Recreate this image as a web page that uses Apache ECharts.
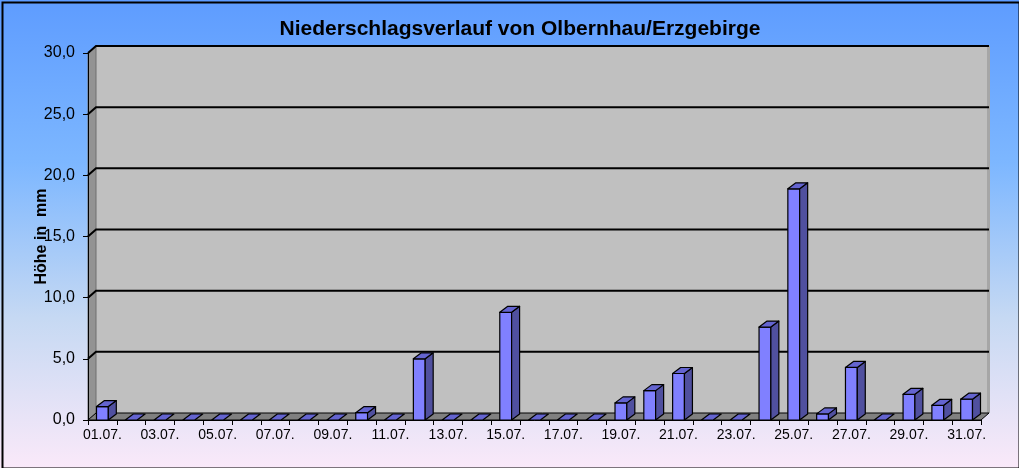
<!DOCTYPE html>
<html>
<head>
<meta charset="utf-8">
<script src="https://cdn.jsdelivr.net/npm/echarts@6/dist/echarts.min.js"></script>
<style>html,body{margin:0;padding:0;}#c{width:1019px;height:468px;}</style>
</head>
<body>
<div id="c"></div>
<script>
var titleText = 'Niederschlagsverlauf von Olbernhau/Erzgebirge';
var yAxisName = 'Höhe in  mm';
var categories = ['01.07.','02.07.','03.07.','04.07.','05.07.','06.07.','07.07.','08.07.','09.07.','10.07.',
  '11.07.','12.07.','13.07.','14.07.','15.07.','16.07.','17.07.','18.07.','19.07.','20.07.',
  '21.07.','22.07.','23.07.','24.07.','25.07.','26.07.','27.07.','28.07.','29.07.','30.07.','31.07.'];
var precipitation = [1.1,0,0,0,0,0,0,0,0,0.6,
  0,5.0,0,0,8.8,0,0,0,1.4,2.4,
  3.8,0,0,7.6,18.9,0.5,4.3,0,2.1,1.2,1.7];
var yTicks = [0,5,10,15,20,25,30];

var WALL_DX = 8, WALL_DY = 7;
var BAR_DX = 8, BAR_DY = 6;

var chart = echarts.init(document.getElementById('c'), null, {renderer:'canvas'});

function wallsRender(params, api) {
  var cs = params.coordSys;
  var x0 = cs.x, x1 = cs.x + cs.width;
  var yTop = cs.y, yBot = cs.y + cs.height;
  var children = [];
  children.push({type:'rect', shape:{x:x0+WALL_DX, y:yTop-WALL_DY, width:cs.width, height:cs.height},
    style:{fill:'#C0C0C0', stroke:null}});
  children.push({type:'rect', shape:{x:x1+WALL_DX-2, y:yTop-WALL_DY, width:3, height:cs.height},
    style:{fill:'#A6A6A6'}});
  children.push({type:'polygon', shape:{points:[[x0,yTop],[x0+WALL_DX,yTop-WALL_DY],[x0+WALL_DX,yBot-WALL_DY],[x0,yBot]]},
    style:{fill:'#939393', stroke:'#6E6E6E', lineWidth:1}});
  children.push({type:'polygon', shape:{points:[[x0,yBot],[x0+WALL_DX,yBot-WALL_DY],[x1+WALL_DX,yBot-WALL_DY],[x1,yBot]]},
    style:{fill:'#808080', stroke:'#000', lineWidth:1}});
  for (var i = 1; i < yTicks.length; i++) {
    var y = api.coord([0, yTicks[i]])[1];
    children.push({type:'polyline', shape:{points:[[x0,y],[x0+WALL_DX,y-WALL_DY],[x1+WALL_DX,y-WALL_DY]]},
      style:{stroke:'#000', lineWidth:2, fill:null}});
  }
  return {type:'group', children:children};
}

function barRender(params, api) {
  var idx = api.value(0), val = api.value(1);
  var top = api.coord([idx, val]);
  var base = api.coord([idx, 0]);
  var w = api.size([1, 0])[0] * 0.41;
  var xl = top[0] - w / 2, xr = top[0] + w / 2;
  var yt = top[1], yb = base[1];
  var stroke = {stroke:'#000', lineWidth:1.2, lineJoin:'round'};
  var children = [];
  if (val > 0) {
    children.push({type:'rect', shape:{x:xl, y:yt, width:w, height:yb-yt},
      style:Object.assign({fill:'#8080FF'}, stroke)});
    children.push({type:'polygon', shape:{points:[[xr,yt],[xr+BAR_DX,yt-BAR_DY],[xr+BAR_DX,yb-BAR_DY],[xr,yb]]},
      style:Object.assign({fill:'#50509F'}, stroke)});
  }
  children.push({type:'polygon', shape:{points:[[xl,yt],[xr,yt],[xr+BAR_DX,yt-BAR_DY],[xl+BAR_DX,yt-BAR_DY]]},
    style:Object.assign({fill:'#6464D0'}, stroke)});
  return {type:'group', children:children};
}

var option = {
  backgroundColor: {type:'linear', x:0, y:0, x2:0, y2:1, colorStops:[
    {offset:0, color:'#5E9CFF'}, {offset:0.35, color:'#7DB7FF'},
    {offset:0.68, color:'#C6D9F3'}, {offset:1, color:'#FAE9F9'}]},
  animation: false,
  title: {text: titleText, left: 515, textAlign: 'center', top: 14,
    textStyle:{fontFamily:'Liberation Sans, Arial', fontSize:21, fontWeight:'bold', color:'#000'}},
  grid: {left: 88, top: 53, right: 38, bottom: 48, containLabel:false},
  xAxis: {type:'category', data: categories, boundaryGap:true, z:10,
    axisLine:{show:true, lineStyle:{color:'#000', width:1}},
    axisTick:{show:true, interval:0, length:5, lineStyle:{color:'#000'}},
    axisLabel:{interval:1, margin:8, color:'#000', fontFamily:'Liberation Sans, Arial', fontSize:14},
    splitLine:{show:false}},
  yAxis: {type:'value', min:0, max:30, interval:5, z:10,
    name: yAxisName, nameLocation:'middle', nameGap:38, nameRotate:90, nameMoveOverlap:false,
    nameTextStyle:{fontFamily:'Liberation Sans, Arial', fontSize:16, fontWeight:'bold', color:'#000'},
    axisLine:{show:true, lineStyle:{color:'#000', width:1}},
    axisTick:{show:true, length:5, inside:false, lineStyle:{color:'#000'}},
    axisLabel:{margin:13, color:'#000', fontFamily:'Liberation Sans, Arial', fontSize:16,
      formatter:function(v){return v.toFixed(1).replace('.', ',');}},
    splitLine:{show:false}},
  graphic: [{type:'rect', left:0, top:0, z:100, silent:true,
    shape:{x:1, y:1, width:1017, height:466}, style:{fill:null, stroke:'#000', lineWidth:2}}],
  series: [
    {type:'custom', name:'walls', z:1, renderItem: wallsRender, data:[[0,0]], silent:true},
    {type:'custom', name:'Niederschlag', z:3, renderItem: barRender,
      data: precipitation.map(function(v,i){return [i, v];})}
  ]
};
chart.setOption(option);
</script>
</body>
</html>
